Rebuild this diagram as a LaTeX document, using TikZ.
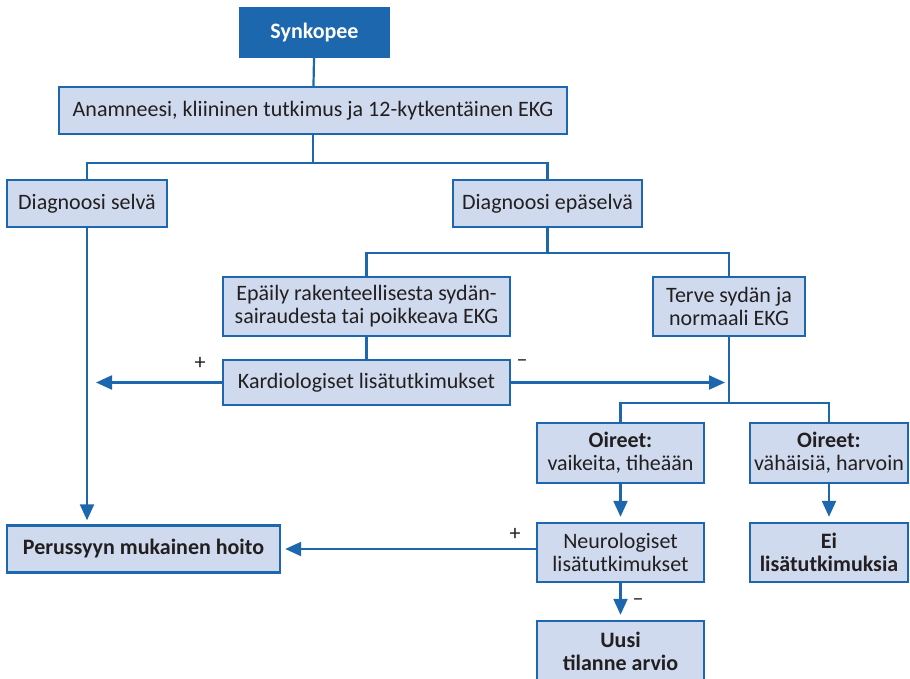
\documentclass[tikz,border=0pt]{standalone}
\usepackage{fontspec}
\setmainfont{Carlito}
\usetikzlibrary{arrows.meta,positioning,calc}
\definecolor{flowblue}{RGB}{28,103,173}
\definecolor{boxfill}{RGB}{207,218,238}
\definecolor{textgray}{RGB}{35,31,32}

\begin{document}
\begin{tikzpicture}[
  x=1pt, y=-1pt,
  box/.style={draw=flowblue, line width=2.4pt, fill=boxfill, inner sep=2pt, align=center, text=textgray, font=\fontsize{22}{23}\selectfont},
  topbox/.style={box, fill=flowblue, text=white, font=\fontsize{22}{23}\selectfont\bfseries},
  link/.style={draw=flowblue, line width=2.2pt},
  sign/.style={text=textgray, font=\fontsize{22}{23}\selectfont},
  >={Triangle[length=16pt,width=14pt]}
]
\clip (0,0) rectangle (910,678);
\node[topbox, minimum width=149pt, minimum height=49pt] (syn) at (314.5,32.5) {Synkopee};
\node[box, minimum width=508pt, minimum height=47pt] (anam) at (313,110.5) {Anamneesi, kliininen tutkimus ja 12-kytkentäinen EKG};
\node[box, minimum width=160pt, minimum height=47pt] (dselva) at (87,203.5) {Diagnoosi selvä};
\node[box, minimum width=189pt, minimum height=47pt] (depa) at (547.5,203.5) {Diagnoosi epäselvä};
\node[box, minimum width=287pt, minimum height=59pt] (epaily) at (366.5,306.5) {Epäily rakenteellisesta sydän-\\sairaudesta tai poikkeava EKG};
\node[box, minimum width=152pt, minimum height=59pt] (terve) at (729,306.5) {Terve sydän ja\\normaali EKG};
\node[box, minimum width=287pt, minimum height=45pt] (kardio) at (366.5,382.5) {Kardiologiset lisätutkimukset};
\node[box, minimum width=167pt, minimum height=60pt] (oir1) at (620.5,453) {\textbf{Oireet:}\\vaikeita, tiheään};
\node[box, minimum width=158pt, minimum height=60pt] (oir2) at (829,453) {\textbf{Oireet:}\\vähäisiä, harvoin};
\node[box, minimum width=167pt, minimum height=59pt] (neuro) at (620.5,552.5) {Neurologiset\\lisätutkimukset};
\node[box, minimum width=158pt, minimum height=59pt] (ei) at (829,552.5) {\textbf{Ei}\\\textbf{lisätutkimuksia}};
\node[box, minimum width=273pt, minimum height=47pt] (perus) at (143.5,549) {\textbf{Perussyyn mukainen hoito}};
\node[box, minimum width=167pt, minimum height=68pt, text depth=8pt] (uusi) at (620.5,655) {\textbf{Uusi}\\\textbf{tilanne arvio}};

% branch points
\coordinate (b1) at ($(anam.south)+(0,28)$);
\coordinate (b2) at ($(depa.south)+(0,25)$);
\coordinate (b3) at ($(terve.south)+(0,66)$);
\coordinate (kl) at (96,382.5);
\coordinate (kr) at (725,382.5);

\draw[link] (syn) -- (anam);
\draw[link] (anam.south) -- (b1);
\draw[link] (dselva.north) |- (b1) -| (depa.north);
\draw[link] (depa.south) -- (b2);
\draw[link] (epaily.north) |- (b2) -| (terve.north);
\draw[link] (epaily) -- (kardio);
\draw[link] (terve.south) -- (b3);
\draw[link] (oir1.north) |- (b3) -| (oir2.north);
\draw[link, ->] (kardio.west) -- (kl);
\draw[link, ->] (kardio.east) -- (kr);
\draw[link, ->, shorten >=4pt] (dselva.south) -- (dselva.south |- perus.north);
\foreach \a/\b in {oir1/neuro,oir2/ei,neuro/uusi}
  \draw[link, ->, shorten >=5pt] (\a) -- (\b);
\draw[link, ->, shorten >=4pt] (neuro.west |- perus.east) -- (perus.east);

\node[sign] (kplus) at (200,363) {+};
\node[sign] (kminus) at (522,363) {–};
\node[sign] (nplus) at (515,534) {+};
\node[sign] (nminus) at (638,602) {–};
\end{tikzpicture}
\end{document}
